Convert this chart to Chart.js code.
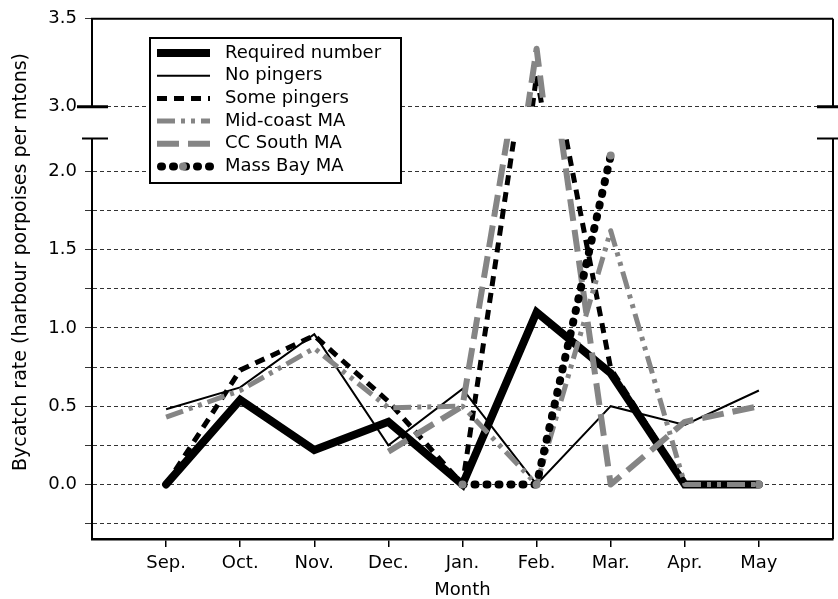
<!DOCTYPE html>
<html>
<head>
<meta charset="utf-8">
<script src="https://cdn.jsdelivr.net/npm/chart.js@4.4.1/dist/chart.umd.min.js"></script>
<style>
  html, body { margin: 0; padding: 0; background: #fff; }
  #wrap { width: 838px; height: 599px; }
</style>
</head>
<body>
<div id="wrap"><canvas id="chart" width="838" height="599"></canvas></div>
<script>
// ── Datos (meses de la temporada) ────────────────────────────────────────────
const MONTHS = ['Sep.', 'Oct.', 'Nov.', 'Dec.', 'Jan.', 'Feb.', 'Mar.', 'Apr.', 'May'];

const REQUIRED_NUMBER = [0, 0.54, 0.22, 0.40, 0, 1.10, 0.71, 0, 0];
const NO_PINGERS      = [0.48, 0.62, 0.96, 0.25, 0.61, 0, 0.50, 0.38, 0.60];
const SOME_PINGERS    = [0, 0.73, 0.95, 0.53, 0, 3.18, 0.74, 0, 0];
const MID_COAST_MA    = [0.43, 0.60, 0.87, 0.49, 0.50, 0, 1.62, 0, 0];
const CC_SOUTH_MA     = [null, null, null, 0.21, 0.50, 3.33, 0, 0.40, 0.50];
const MASS_BAY_MA     = [null, null, null, null, 0, 0, 2.10, null, 0];

// Marcas del eje Y partido: tramo inferior y tramo superior
const LOWER_TICKS   = [-0.25, 0, 0.25, 0.5, 0.75, 1, 1.25, 1.5, 1.75, 2];
const UPPER_TICKS   = [3, 3.25, 3.5];
const LABELED_TICKS = [0, 0.5, 1, 1.5, 2, 3, 3.5];

const Y_TITLE = 'Bycatch rate (harbour porpoises per mtons)';
const X_TITLE = 'Month';

// ── Estilos de cada serie ────────────────────────────────────────────────────
const GRAY = '#858585';
const SERIES = [
    { label: 'Required number', values: REQUIRED_NUMBER, color: '#000', width: 8, dash: [], cap: 'round', join: 'miter' },
    { label: 'No pingers',      values: NO_PINGERS,      color: '#000', width: 2, dash: [], cap: 'butt', join: 'miter' },
    { label: 'Some pingers',    values: SOME_PINGERS,    color: '#000', width: 5, dash: [10, 7], cap: 'butt', join: 'round' },
    { label: 'Mid-coast MA',    values: MID_COAST_MA,    color: GRAY, width: 5, dash: [18, 6, 4, 6, 4, 6], cap: 'butt', join: 'round' },
    { label: 'CC South MA',     values: CC_SOUTH_MA,     color: GRAY, width: 6, dash: [22, 9], cap: 'butt', join: 'round' },
    { label: 'Mass Bay MA',     values: MASS_BAY_MA,     color: '#000', width: 8, dash: [1, 11], cap: 'round', join: 'round', point: GRAY }
];

const FONT = { family: "'DejaVu Sans', sans-serif", size: 18 };
const GRID_COLOR = '#333';

// ── Datasets: cada serie se dibuja en los dos tramos del eje ─────────────────
const datasets = [];
SERIES.forEach((s, i) => {
    ['yLow', 'yTop'].forEach(axis => {
        datasets.push({
            label: s.label,
            xAxisID: 'x',
            yAxisID: axis,
            data: s.values.map((v, k) => ({ x: k, y: v })),
            borderColor: s.color,
            backgroundColor: s.color,
            borderWidth: s.width,
            borderDash: s.dash,
            borderCapStyle: s.cap,
            borderJoinStyle: s.join,
            pointRadius: s.point ? 4 : 0,
            pointHoverRadius: 0,
            pointBackgroundColor: s.point || s.color,
            pointBorderWidth: 0,
            tension: 0,
            fill: false,
            spanGaps: false,
            order: SERIES.length - i
        });
    });
});

// Recorta cada dataset a la franja de su propio eje Y
const panelClip = {
    id: 'panelClip',
    beforeDatasetDraw(chart, args) {
        const ys = args.meta.yScale;
        const a = chart.chartArea;
        chart.ctx.save();
        chart.ctx.beginPath();
        chart.ctx.rect(a.left, ys.top, a.right - a.left, ys.bottom - ys.top);
        chart.ctx.clip();
    },
    afterDatasetDraw(chart) {
        chart.ctx.restore();
    }
};

// Marco, marcas de corte, título Y y leyenda dentro del gráfico
const decorations = {
    id: 'decorations',
    afterDatasetsDraw(chart) {
        const ctx = chart.ctx;
        const a = chart.chartArea;
        const top = chart.scales.yTop;
        const low = chart.scales.yLow;

        ctx.save();
        ctx.strokeStyle = '#000';
        ctx.setLineDash([]);

        // marco superior y derecho (partido en el corte)
        ctx.lineWidth = 2;
        ctx.beginPath();
        ctx.moveTo(a.left - 1, a.top);
        ctx.lineTo(a.right, a.top);
        ctx.moveTo(a.right, a.top);
        ctx.lineTo(a.right, top.bottom);
        ctx.moveTo(a.right, low.top);
        ctx.lineTo(a.right, a.bottom);
        ctx.stroke();

        // marcas del corte
        ctx.lineWidth = 3;
        ctx.beginPath();
        ctx.moveTo(a.left - 15, top.bottom);
        ctx.lineTo(a.left + 16, top.bottom);
        ctx.moveTo(a.right - 16, top.bottom);
        ctx.lineTo(a.right + 5, top.bottom);
        ctx.stroke();
        ctx.lineWidth = 2;
        ctx.beginPath();
        ctx.moveTo(a.left - 10, low.top);
        ctx.lineTo(a.left + 16, low.top);
        ctx.moveTo(a.right - 16, low.top);
        ctx.lineTo(a.right + 5, low.top);
        ctx.stroke();

        // título del eje Y
        ctx.fillStyle = '#000';
        ctx.font = `19px ${FONT.family}`;
        ctx.textAlign = 'center';
        ctx.textBaseline = 'middle';
        ctx.save();
        ctx.translate(21, 262);
        ctx.rotate(-Math.PI / 2);
        ctx.fillText(Y_TITLE, 0, 0);
        ctx.restore();

        // leyenda
        ctx.font = `${FONT.size}px ${FONT.family}`;
        const box = { x: 150, y: 38, w: 251, h: 145 };
        ctx.fillStyle = '#fff';
        ctx.fillRect(box.x, box.y, box.w, box.h);
        ctx.lineWidth = 2;
        ctx.strokeRect(box.x, box.y, box.w, box.h);

        SERIES.forEach((s, i) => {
            const y = 53 + i * 22.7;
            ctx.strokeStyle = s.color;
            ctx.lineWidth = s.width;
            ctx.setLineDash(s.dash);
            ctx.lineCap = i === 0 ? 'butt' : s.cap;
            ctx.beginPath();
            ctx.moveTo(157 + (s.cap === 'round' && i > 0 ? 4 : 0), y);
            ctx.lineTo(210, y);
            ctx.stroke();
            if (s.point) {
                ctx.fillStyle = s.point;
                ctx.beginPath();
                ctx.arc(183, y, 4, 0, Math.PI * 2);
                ctx.fill();
            }
            ctx.setLineDash([]);
            ctx.fillStyle = '#000';
            ctx.textAlign = 'left';
            ctx.fillText(s.label, 225, y);
        });
        ctx.restore();
    }
};

const yTickLabel = v => (LABELED_TICKS.includes(v) ? v.toFixed(1) : '');

new Chart(document.getElementById('chart'), {
    type: 'line',
    data: { datasets },
    options: {
        responsive: false,
        animation: false,
        events: [],
        layout: { padding: { top: 18, right: 5, left: 0, bottom: 0 } },
        plugins: { legend: { display: false }, tooltip: { enabled: false } },
        scales: {
            x: {
                type: 'linear',
                min: -1,
                max: MONTHS.length,
                afterBuildTicks: s => { s.ticks = MONTHS.map((m, i) => ({ value: i })); },
                afterFit: s => { s.height = 60; },
                ticks: { callback: v => MONTHS[v], font: FONT, color: '#000', padding: 6, maxRotation: 0, autoSkip: false },
                grid: { drawOnChartArea: false, tickLength: 8, color: '#000', lineWidth: 1.5 },
                border: { color: '#000', width: 2.5 },
                title: { display: true, text: X_TITLE, font: FONT, color: '#000', padding: { top: 0, bottom: -2 } }
            },
            yTop: {
                type: 'linear',
                position: 'left',
                stack: 'y',
                stackWeight: 88,
                weight: 3,
                min: 3,
                max: 3.5,
                afterBuildTicks: s => { s.ticks = UPPER_TICKS.map(v => ({ value: v })); },
                afterFit: s => { s.width = 92; },
                ticks: { callback: yTickLabel, font: FONT, color: '#000', padding: 8 },
                grid: { color: GRID_COLOR, lineWidth: 1, tickLength: 7, tickColor: GRID_COLOR },
                border: { color: '#000', width: 2, dash: [4, 3] }
            },
            yGap: {
                type: 'linear',
                position: 'left',
                stack: 'y',
                stackWeight: 32,
                weight: 2,
                min: 0,
                max: 1,
                afterFit: s => { s.width = 92; },
                ticks: { display: false },
                grid: { display: false },
                border: { display: false }
            },
            yLow: {
                type: 'linear',
                position: 'left',
                stack: 'y',
                stackWeight: 401,
                weight: 1,
                min: -0.348,
                max: 2.208,
                afterBuildTicks: s => { s.ticks = LOWER_TICKS.map(v => ({ value: v })); },
                afterFit: s => { s.width = 92; },
                ticks: { callback: yTickLabel, font: FONT, color: '#000', padding: 8 },
                grid: { color: GRID_COLOR, lineWidth: 1, tickLength: 7, tickColor: GRID_COLOR },
                border: { color: '#000', width: 2, dash: [4, 3] }
            }
        }
    },
    plugins: [panelClip, decorations]
});
</script>
</body>
</html>
